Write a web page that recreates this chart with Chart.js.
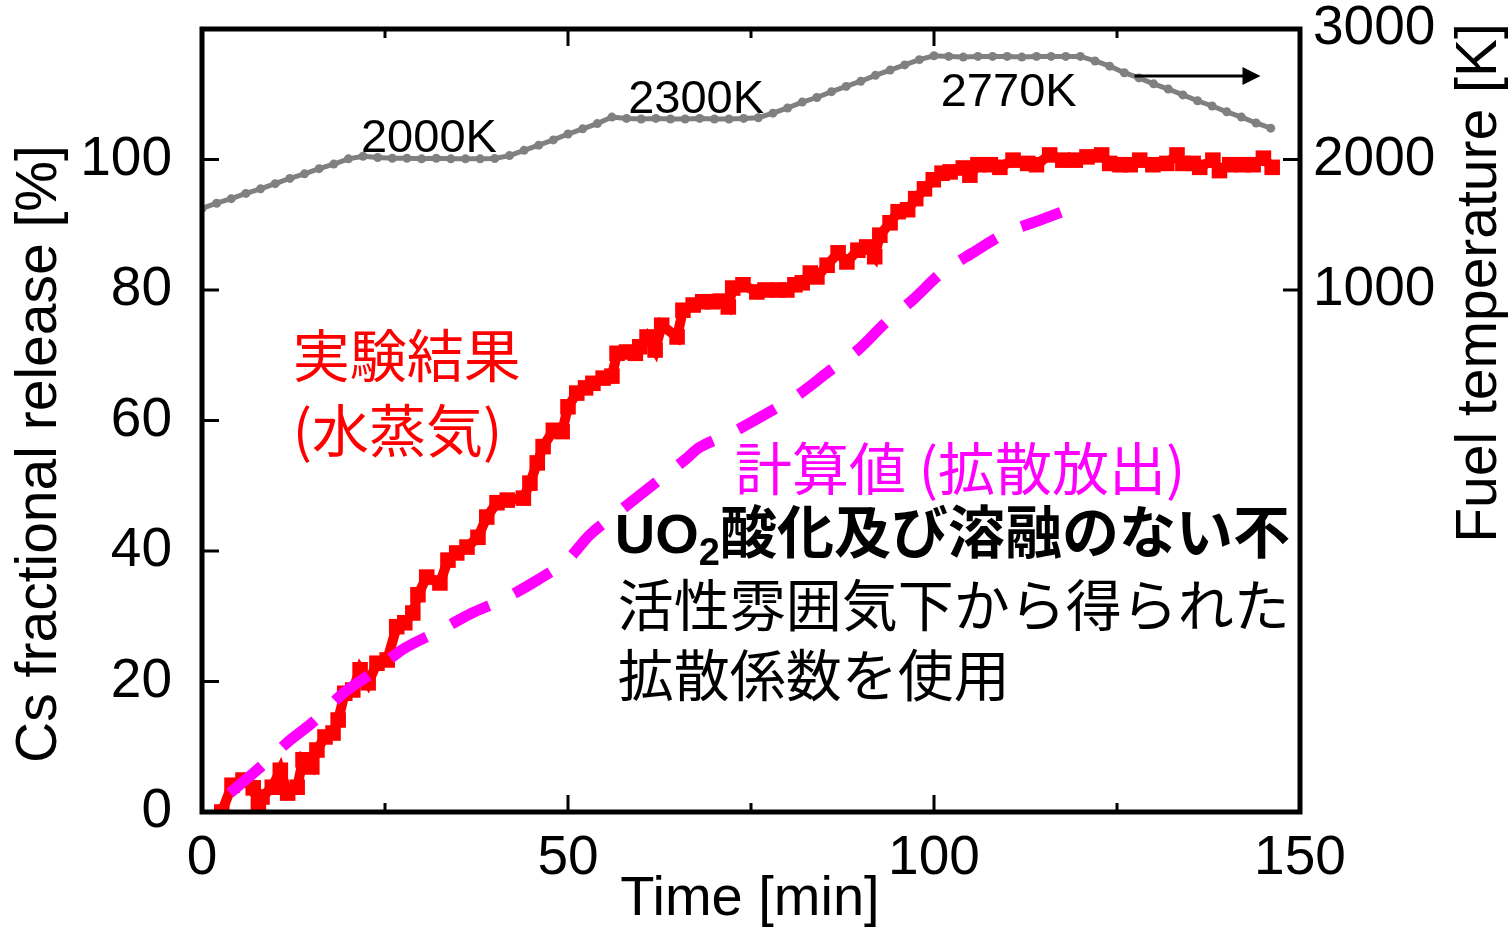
<!DOCTYPE html>
<html>
<head>
<meta charset="utf-8">
<script src="https://cdn.jsdelivr.net/npm/chart.js@4"></script>
<style>
  html, body { margin: 0; padding: 0; background: #fff; }
  #wrap { width: 1512px; height: 931px; }
</style>
</head>
<body>
<div id="wrap"><canvas id="csChart"></canvas></div>
<script>
// Experiment (steam) - Cs fractional release [%]
const expTime = [2.7, 4.1, 5.6, 7.0, 7.7, 8.2, 9.6, 10.7, 11.7, 13.0,
  13.8, 15.0, 15.7, 16.8, 17.9, 18.6, 19.5, 20.6, 21.6, 22.7,
  23.9, 25.3, 26.6, 27.7, 28.8, 29.5, 30.7, 32.5, 33.6, 34.8,
  36.2, 37.7, 38.9, 40.3, 41.7, 43.9, 44.8, 45.8, 46.6, 48.0,
  49.2, 50.0, 51.2, 52.4, 53.4, 54.8, 56.0, 56.7, 58.0, 59.2,
  59.8, 60.8, 61.9, 62.8, 64.9, 65.7, 67.1, 68.4, 69.7, 70.8,
  71.9, 72.5, 73.9, 75.8, 76.9, 78.7, 79.9, 81.0, 82.0, 83.1,
  84.0, 85.4, 86.9, 88.1, 89.6, 90.8, 91.9, 92.6, 94.0, 95.1,
  96.4, 97.5, 98.7, 99.9, 101.1, 102.2, 104.0, 104.9, 106.0, 107.7,
  109.0, 110.8, 112.8, 114.0, 115.8, 117.6, 119.3, 120.9, 122.9, 124.0,
  125.4, 126.8, 128.1, 129.9, 131.8, 133.2, 134.0, 135.4, 136.3, 138.1,
  139.0, 140.4, 142.2, 143.6, 145.0, 146.2];
const expRelease = [0, 4.1, 4.9, 3.7, 0.8, 2.3, 3.8, 6.4, 2.9, 3.8,
  8.0, 6.9, 9.5, 11.5, 12.1, 14.1, 18.2, 18.7, 21.8, 19.8,
  22.8, 23.3, 28.4, 29.0, 30.5, 33.3, 36.0, 35.1, 38.6, 39.7,
  40.6, 42.1, 45.2, 47.4, 47.8, 48.1, 50.4, 53.5, 56.0, 58.5,
  58.3, 62.1, 64.2, 65.0, 65.7, 66.5, 66.8, 70.3, 70.5, 70.3,
  71.3, 72.8, 70.8, 74.6, 72.8, 76.9, 77.7, 78.2, 78.2, 78.3,
  77.4, 80.3, 80.8, 79.7, 80.0, 80.0, 80.0, 80.8, 81.1, 82.6,
  82.0, 83.8, 85.7, 84.3, 86.1, 86.6, 85.1, 88.4, 90.3, 92.0,
  92.3, 94.0, 95.5, 96.9, 97.9, 98.1, 98.7, 97.6, 99.2, 99.2,
  98.8, 99.9, 99.4, 99.2, 100.7, 99.9, 99.9, 100.4, 100.7, 99.4,
  99.2, 99.2, 99.9, 99.2, 99.4, 100.7, 99.4, 99.4, 98.8, 99.9,
  98.3, 99.2, 99.2, 99.2, 100.2, 98.8];

// Calculation (diffusion release)
const calcTime = [3.8, 7.5, 11.6, 15.2, 19.3, 23.2, 27.7, 32.1, 36.9, 41.0,
  45.9, 49.9, 53.0, 57.5, 62.0, 66.0, 68.0, 72.5, 77.2, 81.4,
  85.5, 89.6, 93.3, 97.1, 101.2, 105.3, 110.1, 114.5, 119.9];
const calcRelease = [2.9, 6.4, 10.6, 13.8, 18.2, 21.3, 25.1, 27.6, 30.5, 32.5,
  35.6, 38.6, 42.5, 46.5, 50.5, 54.0, 55.9, 58.2, 61.1, 63.9,
  67.4, 70.8, 74.9, 78.5, 82.8, 85.7, 88.9, 90.7, 93.0];

// Fuel temperature [K]
const tempTime = [0, 2, 4, 6, 8, 10, 12, 14, 16, 18,
  20, 22, 24, 26, 28, 30, 32, 34, 36, 38,
  40, 42, 44, 46, 48, 50, 52, 54, 56, 58,
  60, 62, 64, 66, 68, 70, 72, 74, 76, 78,
  80, 82, 84, 86, 88, 90, 92, 94, 96, 98,
  100, 102, 104, 106, 108, 110, 112, 114, 116, 118,
  120, 122, 124, 126, 128, 130, 132, 134, 136, 138,
  140, 142, 144, 146];
const tempK = [1625, 1665, 1700, 1740, 1775, 1815, 1855, 1890, 1930, 1965,
  2005, 2025, 2015, 2010, 2010, 2005, 2010, 2005, 2005, 2005,
  2008, 2030, 2070, 2110, 2150, 2195, 2235, 2275, 2325, 2315,
  2310, 2315, 2310, 2310, 2315, 2310, 2310, 2315, 2320, 2355,
  2395, 2440, 2475, 2520, 2560, 2600, 2645, 2685, 2725, 2765,
  2795, 2790, 2785, 2790, 2790, 2790, 2785, 2790, 2790, 2790,
  2790, 2755, 2715, 2665, 2625, 2580, 2540, 2495, 2450, 2410,
  2365, 2325, 2280, 2240];

// Axis ticks
const xMajorTicks = [0, 50, 100, 150];
const xMinorTicks = [25, 75, 125];
const yLeftTicks = [20, 40, 60, 80, 100];
const yRightTicks = [1000, 2000];

// Temperature plateau labels (x in min, y in K)
const tempLabels = [
  { text: '2000K', t: 31.0, k: 2057 },
  { text: '2300K', t: 67.5, k: 2356 },
  { text: '2770K', t: 110.2, k: 2410 }
];

const LATIN = '"Liberation Sans", Arial, sans-serif';
const CJK = '"Noto Sans CJK JP", "Noto Sans CJK SC", sans-serif';

const toPoints = (xs, ys) => xs.map((x, i) => ({ x: x, y: ys[i] }));

// keep the plot box fixed: no extra label padding from the scales
const fixBox = (w, h) => s => {
    if (w !== null) s.width = w;
    if (h !== null) s.height = h;
    s.paddingTop = 0;
    s.paddingBottom = 0;
    s.paddingLeft = 0;
    s.paddingRight = 0;
};

// Frame, inward ticks, titles and annotations
const decorPlugin = {
    id: 'decor',
    afterDraw(chart) {
        const ctx = chart.ctx;
        const a = chart.chartArea;
        const sx = chart.scales.x, sy = chart.scales.y, st = chart.scales.yT;
        ctx.save();

        // frame
        ctx.strokeStyle = '#000';
        ctx.lineWidth = 5;
        ctx.strokeRect(a.left, a.top, a.right - a.left, a.bottom - a.top);

        // ticks
        ctx.lineWidth = 3;
        ctx.beginPath();
        xMajorTicks.forEach(v => {
            const px = sx.getPixelForValue(v);
            ctx.moveTo(px, a.bottom); ctx.lineTo(px, a.bottom - 17);
            ctx.moveTo(px, a.top); ctx.lineTo(px, a.top + 17);
        });
        xMinorTicks.forEach(v => {
            const px = sx.getPixelForValue(v);
            ctx.moveTo(px, a.bottom); ctx.lineTo(px, a.bottom - 9);
            ctx.moveTo(px, a.top); ctx.lineTo(px, a.top + 9);
        });
        yLeftTicks.forEach(v => {
            const py = sy.getPixelForValue(v);
            ctx.moveTo(a.left, py); ctx.lineTo(a.left + 17, py);
        });
        yRightTicks.forEach(v => {
            const py = st.getPixelForValue(v);
            ctx.moveTo(a.right, py); ctx.lineTo(a.right - 17, py);
        });
        ctx.stroke();

        // axis titles
        ctx.fillStyle = '#000';
        ctx.textAlign = 'center';
        ctx.textBaseline = 'middle';
        ctx.font = '56px ' + LATIN;
        ctx.fillText('Time [min]', 750, 900);
        ctx.font = '57px ' + LATIN;
        ctx.save();
        ctx.translate(40, 454);
        ctx.rotate(-Math.PI / 2);
        ctx.fillText('Cs fractional release [%]', 0, 0);
        ctx.restore();
        ctx.save();
        ctx.translate(1480, 283);
        ctx.rotate(-Math.PI / 2);
        ctx.fillText('Fuel temperature [K]', 0, 0);
        ctx.restore();

        // temperature labels
        ctx.font = '47px ' + LATIN;
        ctx.textBaseline = 'alphabetic';
        tempLabels.forEach(l => {
            ctx.fillText(l.text, sx.getPixelForValue(l.t), st.getPixelForValue(l.k));
        });

        // arrow pointing to right axis
        const ay = st.getPixelForValue(2640);
        const ax1 = sx.getPixelForValue(127.4), ax2 = sx.getPixelForValue(144.6);
        ctx.lineWidth = 3;
        ctx.beginPath();
        ctx.moveTo(ax1, ay); ctx.lineTo(ax2 - 12, ay);
        ctx.stroke();
        ctx.beginPath();
        ctx.moveTo(ax2, ay); ctx.lineTo(ax2 - 18, ay - 9); ctx.lineTo(ax2 - 18, ay + 9);
        ctx.closePath();
        ctx.fill();

        // series annotations
        ctx.textAlign = 'left';
        ctx.textBaseline = 'middle';
        ctx.font = '57px ' + CJK;
        ctx.fillStyle = '#ff0000';
        ctx.fillText('実験結果', sx.getPixelForValue(12.4), sy.getPixelForValue(70.0));
        ctx.fillText('(水蒸気)', sx.getPixelForValue(12.4), sy.getPixelForValue(58.5));
        ctx.fillStyle = '#ff00ff';
        ctx.fillText('計算値 (拡散放出)', sx.getPixelForValue(72.8), sy.getPixelForValue(52.7));

        // note text
        ctx.fillStyle = '#000';
        const nx = sx.getPixelForValue(56.4);
        const base1 = sy.getPixelForValue(42.8) + 20;
        ctx.textBaseline = 'alphabetic';
        ctx.font = 'bold 56px ' + LATIN;
        ctx.fillText('UO', nx, base1);
        let cx = nx + ctx.measureText('UO').width;
        ctx.font = 'bold 38px ' + LATIN;
        ctx.fillText('2', cx, base1 + 12);
        cx += ctx.measureText('2').width;
        ctx.font = 'bold 57px ' + CJK;
        ctx.fillText('酸化及び溶融のない不', cx, base1);
        ctx.textBaseline = 'middle';
        ctx.font = '56px ' + CJK;
        ctx.fillText('活性雰囲気下から得られた', sx.getPixelForValue(56.8), sy.getPixelForValue(31.7));
        ctx.fillText('拡散係数を使用', sx.getPixelForValue(56.8), sy.getPixelForValue(21.0));

        ctx.restore();
    }
};

const tickFont = { size: 55, family: LATIN, lineHeight: 1 };

new Chart(document.getElementById('csChart').getContext('2d'), {
    type: 'line',
    data: {
        datasets: [
            {
                label: 'Calculation',
                data: toPoints(calcTime, calcRelease),
                yAxisID: 'y',
                borderColor: '#ff00ff',
                borderWidth: 11,
                borderDash: [42, 28],
                borderCapStyle: 'butt',
                pointRadius: 0,
                tension: 0.3
            },
            {
                label: 'Experiment',
                data: toPoints(expTime, expRelease),
                yAxisID: 'y',
                borderColor: '#ff0000',
                borderWidth: 10,
                pointStyle: 'rect',
                pointRadius: 11,
                pointBorderWidth: 0,
                pointBackgroundColor: '#ff0000',
                tension: 0
            },
            {
                label: 'Fuel temperature',
                data: toPoints(tempTime, tempK),
                yAxisID: 'yT',
                borderColor: '#808080',
                borderWidth: 5,
                pointStyle: 'circle',
                pointRadius: 4.5,
                pointBorderWidth: 0,
                pointBackgroundColor: '#808080',
                tension: 0
            }
        ]
    },
    options: {
        responsive: true,
        maintainAspectRatio: false,
        animation: false,
        layout: { padding: { top: 29, left: 0, right: 0, bottom: 0 } },
        plugins: {
            legend: { display: false },
            tooltip: { enabled: false }
        },
        scales: {
            x: {
                type: 'linear',
                min: 0,
                max: 150,
                grid: { display: false, drawTicks: false },
                border: { display: false },
                ticks: {
                    stepSize: 50,
                    autoSkip: false,
                    maxRotation: 0,
                    color: '#000',
                    padding: 14,
                    font: { size: 55, family: LATIN }
                },
                afterFit: fixBox(null, 119)
            },
            y: {
                position: 'left',
                min: 0,
                max: 120,
                grid: { display: false, drawTicks: false },
                border: { display: false },
                ticks: {
                    stepSize: 20,
                    color: '#000',
                    padding: 30,
                    font: tickFont,
                    callback: v => (v <= 100 ? v : '')
                },
                afterFit: fixBox(202, null)
            },
            yT: {
                position: 'right',
                min: -3000,
                max: 3000,
                grid: { display: false, drawTicks: false },
                border: { display: false },
                ticks: {
                    stepSize: 1000,
                    color: '#000',
                    padding: 13,
                    font: tickFont,
                    callback: v => (v >= 1000 ? v : '')
                },
                afterFit: fixBox(212, null)
            }
        }
    },
    plugins: [decorPlugin]
});
</script>
</body>
</html>
